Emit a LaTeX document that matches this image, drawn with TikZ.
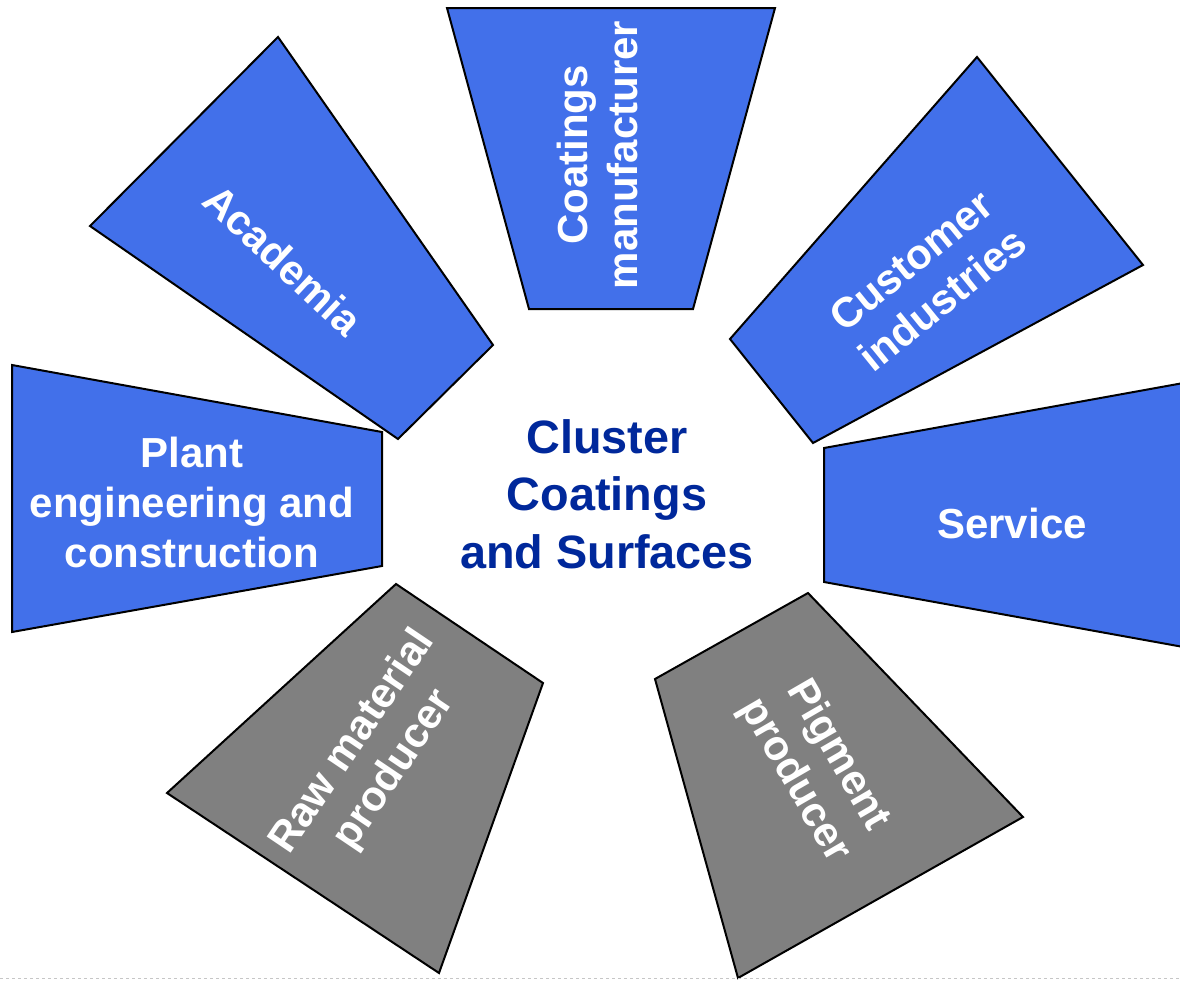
\documentclass[tikz,border=0pt]{standalone}
\usepackage{fontspec}
\setmainfont{Liberation Sans}
\definecolor{segblue}{RGB}{66,112,234}
\definecolor{seggray}{RGB}{128,128,128}
\definecolor{hubblue}{RGB}{0,40,155}
\begin{document}
\begin{tikzpicture}[x=1pt,y=-1pt,
  seg/.style={draw=black,line width=2pt,line join=miter},
  bluseg/.style={seg,fill=segblue},
  gryseg/.style={seg,fill=seggray},
  lbl/.style={text=white,font=\fontsize{42}{50}\selectfont\bfseries,align=center,inner sep=0pt},
  hub/.style={text=hubblue,font=\fontsize{46.8}{57.5}\selectfont\bfseries,align=center,inner sep=0pt}]
\clip (0,0) rectangle (1180,980);
\fill[white] (0,0) rectangle (1180,980);
% segments
\draw[bluseg] (447,8) -- (775,8) -- (693,309) -- (529,309) -- cycle;
\draw[bluseg] (278,37) -- (493,345) -- (398,439) -- (90,226) -- cycle;
\draw[bluseg] (977,57) -- (1143,265) -- (813,443) -- (730,339) -- cycle;
\draw[bluseg] (12,365) -- (382,432) -- (382,566) -- (12,632) -- cycle;
\draw[bluseg] (824,448) -- (1200,380) -- (1200,650) -- (824,582) -- cycle;
\draw[gryseg] (396,584) -- (543,683) -- (439,973) -- (167,793) -- cycle;
\draw[gryseg] (808,593) -- (1023,817) -- (738,978) -- (655,679) -- cycle;
% labels
\node[lbl,rotate=90] (coat) at (597,155) {Coatings\\manufacturer};
\node[lbl,rotate=-43] (acad) at (283,260) {Academia};
\node[lbl,rotate=39] (cust) at (927,280) {Customer\\industries};
\node[lbl] (plant) at (192,502) {Plant\\engineering and\\construction};
\node[lbl] (serv) at (1012,523) {Service};
\node[lbl,rotate=56] (raw) at (374,756) {Raw material\\producer};
\node[lbl,rotate=-60] (pig) at (816,768) {Pigment\\producer};
\node[hub] (hubtext) at (607,494) {Cluster\\Coatings\\and Surfaces};
% bottom dotted rule
\coordinate (ruleL) at (0,978.5);
\coordinate (ruleR) at (1180,978.5);
\draw[gray!45,line width=1pt,dash pattern=on 3pt off 3pt] (ruleL) -- (ruleR);
\end{tikzpicture}
\end{document}
